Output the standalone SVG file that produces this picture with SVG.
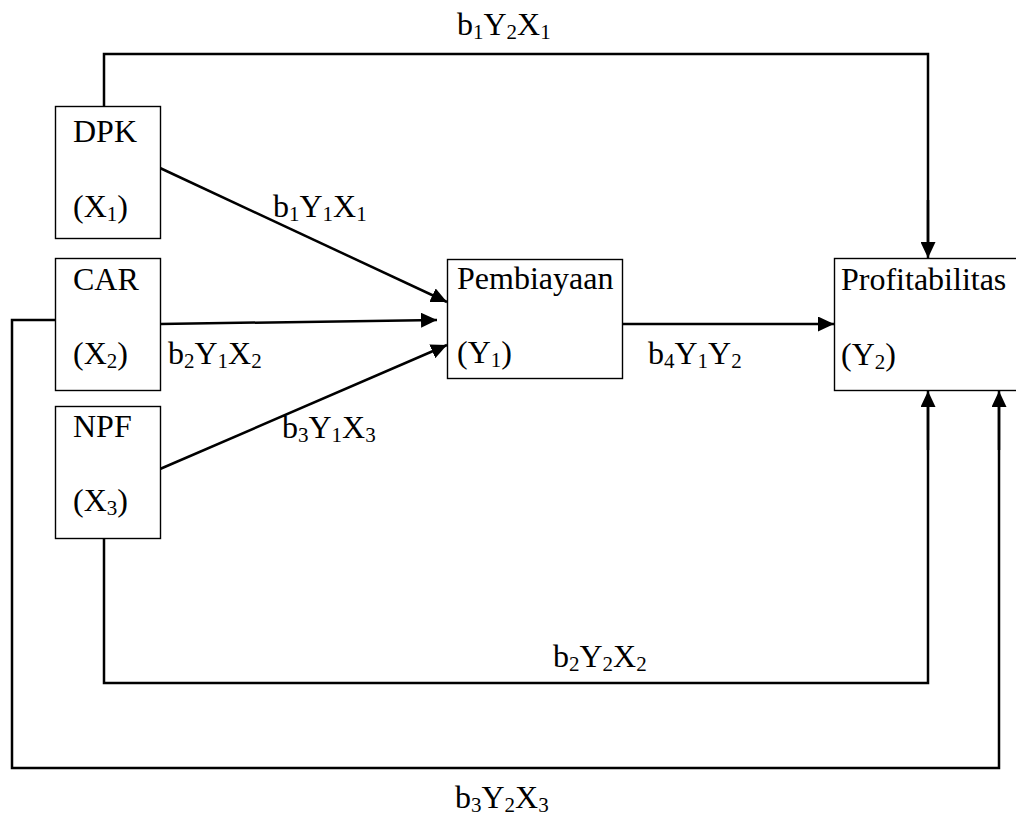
<svg xmlns="http://www.w3.org/2000/svg" width="1016" height="823" viewBox="0 0 1016 823">
  <style>
    .box { fill: #ffffff; stroke: #000000; stroke-width: 1.4; }
    .lbl { font-family: "Liberation Serif", "Times New Roman", serif; font-size: 32px; fill: #000000; }
    .sub { font-size: 21px; }
    .wire { fill: none; stroke: #000000; stroke-width: 2.5; }
    .arrow { fill: none; stroke: #000000; stroke-width: 2.5; marker-end: url(#head); }
  </style>
  <defs>
    <marker id="head" markerUnits="userSpaceOnUse" markerWidth="17" markerHeight="15" refX="16" refY="7.5" orient="auto">
      <path d="M0,0 L16,7.5 L0,15 z" fill="#000000"/>
    </marker>
  </defs>
  <rect width="1016" height="823" fill="#ffffff"/>

  <!-- connectors -->
  <g id="connectors">
    <!-- X1 to Y2 over the top -->
    <path class="wire" d="M104,106 V54 H928 V242"/>
    <line class="arrow" x1="928" y1="200" x2="928" y2="258"/>
    <!-- X3 to Y2 underneath -->
    <path class="wire" d="M104,538 V683 H928 V405"/>
    <line class="arrow" x1="928" y1="450" x2="928" y2="391"/>
    <!-- X2 to Y2 round the outside -->
    <path class="wire" d="M55,320 H12 V768 H999 V405"/>
    <line class="arrow" x1="999" y1="450" x2="999" y2="391"/>
    <!-- independents to Y1 -->
    <line class="arrow" x1="160" y1="168" x2="447" y2="302"/>
    <line class="arrow" x1="160" y1="324" x2="437" y2="320"/>
    <line class="arrow" x1="160" y1="469" x2="447" y2="345"/>
    <!-- Y1 to Y2 -->
    <line class="arrow" x1="622" y1="324" x2="834" y2="324"/>

    <!-- path labels -->
    <text class="lbl" x="457" y="35">b<tspan class="sub" dy="4">1</tspan><tspan dy="-4">Y</tspan><tspan class="sub" dy="4">2</tspan><tspan dy="-4">X</tspan><tspan class="sub" dy="4">1</tspan></text>
    <text class="lbl" x="273" y="217">b<tspan class="sub" dy="4">1</tspan><tspan dy="-4">Y</tspan><tspan class="sub" dy="4">1</tspan><tspan dy="-4">X</tspan><tspan class="sub" dy="4">1</tspan></text>
    <text class="lbl" x="168" y="364">b<tspan class="sub" dy="4">2</tspan><tspan dy="-4">Y</tspan><tspan class="sub" dy="4">1</tspan><tspan dy="-4">X</tspan><tspan class="sub" dy="4">2</tspan></text>
    <text class="lbl" x="282" y="438">b<tspan class="sub" dy="4">3</tspan><tspan dy="-4">Y</tspan><tspan class="sub" dy="4">1</tspan><tspan dy="-4">X</tspan><tspan class="sub" dy="4">3</tspan></text>
    <text class="lbl" x="648" y="364">b<tspan class="sub" dy="4">4</tspan><tspan dy="-4">Y</tspan><tspan class="sub" dy="4">1</tspan><tspan dy="-4">Y</tspan><tspan class="sub" dy="4">2</tspan></text>
    <text class="lbl" x="553" y="667">b<tspan class="sub" dy="4">2</tspan><tspan dy="-4">Y</tspan><tspan class="sub" dy="4">2</tspan><tspan dy="-4">X</tspan><tspan class="sub" dy="4">2</tspan></text>
    <text class="lbl" x="455" y="808">b<tspan class="sub" dy="4">3</tspan><tspan dy="-4">Y</tspan><tspan class="sub" dy="4">2</tspan><tspan dy="-4">X</tspan><tspan class="sub" dy="4">3</tspan></text>
  </g>

  <!-- nodes -->
  <g id="dpk">
    <rect class="box" x="55.5" y="106.5" width="105" height="132"/>
    <text class="lbl" x="73" y="142">DPK</text>
    <text class="lbl" x="73" y="217">(X<tspan class="sub" dy="4">1</tspan><tspan dy="-4">)</tspan></text>
  </g>
  <g id="car">
    <rect class="box" x="55.5" y="258.5" width="105" height="132"/>
    <text class="lbl" x="73" y="290">CAR</text>
    <text class="lbl" x="73" y="364">(X<tspan class="sub" dy="4">2</tspan><tspan dy="-4">)</tspan></text>
  </g>
  <g id="npf">
    <rect class="box" x="55.5" y="406.5" width="105" height="132"/>
    <text class="lbl" x="73" y="437">NPF</text>
    <text class="lbl" x="73" y="511">(X<tspan class="sub" dy="4">3</tspan><tspan dy="-4">)</tspan></text>
  </g>
  <g id="pembiayaan">
    <rect class="box" x="447.5" y="259.5" width="175" height="119"/>
    <text class="lbl" x="457" y="289">Pembiayaan</text>
    <text class="lbl" x="457" y="363">(Y<tspan class="sub" dy="4">1</tspan><tspan dy="-4">)</tspan></text>
  </g>
  <g id="profitabilitas">
    <rect class="box" x="834.5" y="258.5" width="190" height="132"/>
    <text class="lbl" x="841" y="290">Profitabilitas</text>
    <text class="lbl" x="841" y="365">(Y<tspan class="sub" dy="4">2</tspan><tspan dy="-4">)</tspan></text>
  </g>
</svg>
